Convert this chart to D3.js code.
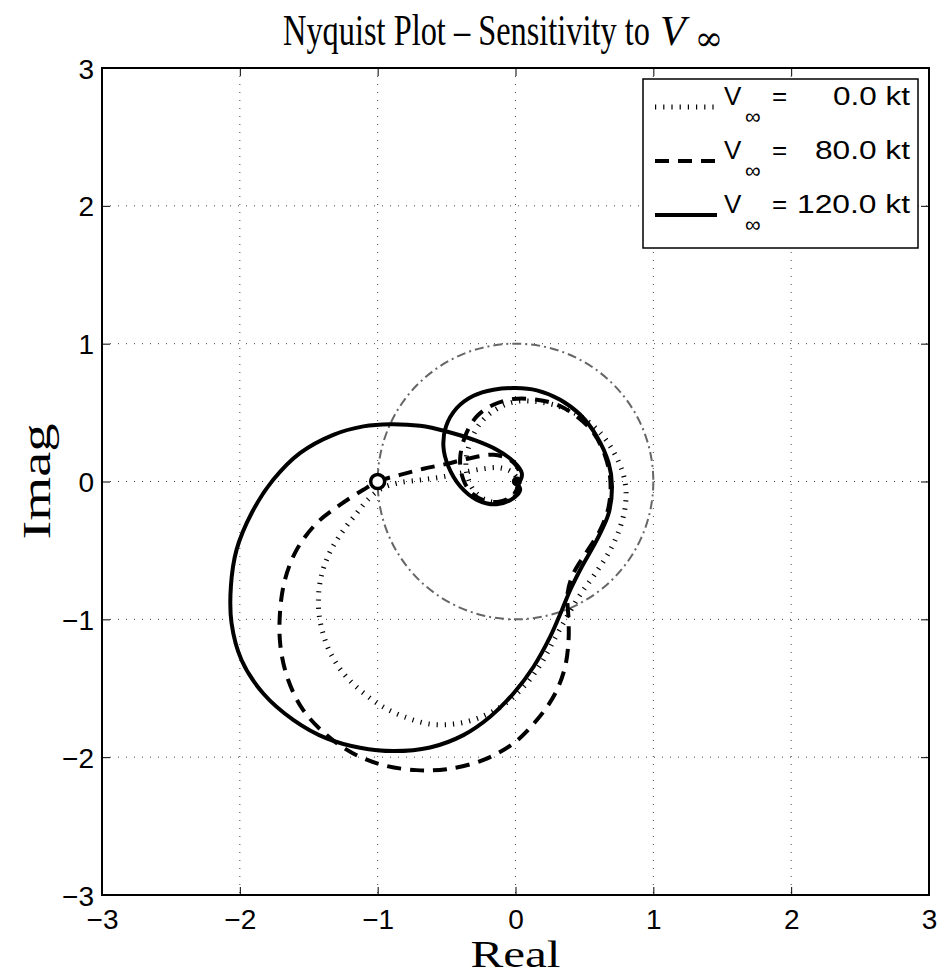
<!DOCTYPE html>
<html>
<head>
<meta charset="utf-8">
<script src="https://cdn.jsdelivr.net/npm/d3@7"></script>
<style>
body { margin: 0; background: #fff; }
</style>
</head>
<body>
<div id="chart"></div>
<script>
// tick values, same for both axes
const ticks = [-3, -2, -1, 0, 1, 2, 3]

// Nyquist curves, [real, imag]
const v0 = [
    [0, 0], [0.025, -0.05], [-0.01, -0.11], [-0.1, -0.15], [-0.2, -0.14], [-0.29, -0.08],
    [-0.34, 0.01], [-0.36, 0.13], [-0.33, 0.28], [-0.25, 0.43], [-0.13, 0.53], [0.0, 0.58],
    [0.15, 0.58], [0.3, 0.55], [0.46, 0.48], [0.6, 0.37], [0.72, 0.2], [0.79, 0.02],
    [0.8, -0.15], [0.76, -0.33], [0.68, -0.51], [0.57, -0.68], [0.47, -0.82], [0.38, -0.97],
    [0.29, -1.13], [0.18, -1.33], [0.05, -1.5], [-0.1, -1.63], [-0.28, -1.72], [-0.45, -1.76],
    [-0.62, -1.76], [-0.8, -1.71], [-0.97, -1.63], [-1.12, -1.52], [-1.25, -1.39], [-1.35, -1.23],
    [-1.41, -1.05], [-1.43, -0.88], [-1.41, -0.69], [-1.35, -0.52], [-1.26, -0.37], [-1.16, -0.24],
    [-1.06, -0.12], [-0.97, -0.05], [-0.85, -0.01], [-0.7, 0.01], [-0.55, 0.03], [-0.4, 0.06],
    [-0.25, 0.09], [-0.12, 0.1], [-0.03, 0.07], [0.01, 0.02], [0, 0]
]

const v80 = [
    [0, 0], [0.015, -0.024], [-0.015, -0.097], [-0.111, -0.145], [-0.22, -0.14], [-0.317, -0.085],
    [-0.378, 0.012], [-0.402, 0.157], [-0.366, 0.327], [-0.281, 0.472], [-0.16, 0.557], [-0.015, 0.598],
    [0.155, 0.593], [0.3, 0.557], [0.446, 0.472], [0.567, 0.351], [0.651, 0.182], [0.688, 0.012],
    [0.676, -0.182], [0.615, -0.351], [0.518, -0.508], [0.421, -0.666], [0.378, -0.811], [0.385, -1.005],
    [0.385, -1.15], [0.36, -1.344], [0.288, -1.538], [0.155, -1.731], [-0.015, -1.9], [-0.232, -2.02],
    [-0.5, -2.087], [-0.717, -2.094], [-0.959, -2.058], [-1.177, -1.973], [-1.37, -1.84], [-1.54, -1.659],
    [-1.649, -1.44], [-1.705, -1.199], [-1.709, -0.956], [-1.673, -0.714], [-1.588, -0.496], [-1.443, -0.303],
    [-1.274, -0.17], [-1.104, -0.06], [-1.0, 0], [-0.838, 0.048], [-0.668, 0.092], [-0.499, 0.128],
    [-0.329, 0.169], [-0.16, 0.194], [-0.039, 0.157], [0.022, 0.085], [0.022, 0.012], [0, 0]
]

const v120 = [
    [0, 0], [0.034, -0.06], [-0.015, -0.12], [-0.136, -0.165], [-0.28, -0.133], [-0.4, -0.036],
    [-0.487, 0.109], [-0.523, 0.254], [-0.504, 0.4], [-0.426, 0.533], [-0.305, 0.622], [-0.16, 0.666],
    [0, 0.678], [0.155, 0.661], [0.324, 0.593], [0.47, 0.484], [0.59, 0.327], [0.676, 0.133],
    [0.7, -0.036], [0.676, -0.23], [0.59, -0.424], [0.482, -0.617], [0.397, -0.787], [0.337, -0.932],
    [0.252, -1.126], [0.131, -1.344], [-0.015, -1.538], [-0.184, -1.707], [-0.378, -1.84], [-0.62, -1.93],
    [-0.886, -1.956], [-1.128, -1.932], [-1.37, -1.864], [-1.61, -1.731], [-1.83, -1.538], [-1.988, -1.295],
    [-2.06, -1.029], [-2.065, -0.763], [-2.024, -0.496], [-1.915, -0.23], [-1.758, 0.012], [-1.564, 0.206],
    [-1.322, 0.339], [-1.104, 0.4], [-0.91, 0.416], [-0.692, 0.404], [-0.499, 0.363], [-0.305, 0.303],
    [-0.136, 0.23], [-0.015, 0.145], [0.046, 0.06], [0.029, 0], [0, 0]
]

const legendValues = ["0.0 kt", "80.0 kt", "120.0 kt"]
const legendWidths = [77, 95, 113]

const width = 945
const height = 978
const margin = {top: 68, right: 16, bottom: 83, left: 102}

const sans = "Liberation Sans, Arial, sans-serif"
const serif = "Liberation Serif, DejaVu Serif, serif"

const svg = d3.select("#chart")
    .append("svg")
    .attr("width", width)
    .attr("height", height)

const x = d3.scaleLinear().domain([-3, 3]).range([margin.left, width - margin.right])
const y = d3.scaleLinear().domain([-3, 3]).range([height - margin.bottom, margin.top])

const fmt = d => d < 0 ? "\u2212" + Math.abs(d) : String(d)

// grid
const grid = svg.append("g")
    .attr("stroke", "#444")
    .attr("stroke-width", 1)
    .attr("stroke-dasharray", "1,7")
grid.selectAll(".gx").data(ticks.slice(1, -1)).enter().append("line")
    .attr("x1", d => x(d)).attr("x2", d => x(d))
    .attr("y1", y(3)).attr("y2", y(-3))
grid.selectAll(".gy").data(ticks.slice(1, -1)).enter().append("line")
    .attr("y1", d => y(d)).attr("y2", d => y(d))
    .attr("x1", x(-3)).attr("x2", x(3))

// axes with inside ticks on all four sides
const tickLen = 8
const xAxis = svg.append("g").attr("transform", `translate(0,${y(-3)})`)
    .call(d3.axisBottom(x).tickValues(ticks).tickSizeInner(-tickLen).tickSizeOuter(0).tickFormat(fmt))
xAxis.selectAll(".tick text").attr("y", 34).attr("dy", null)
svg.append("g").attr("transform", `translate(0,${y(3)})`)
    .call(d3.axisTop(x).tickValues(ticks).tickSizeInner(-tickLen).tickSizeOuter(0).tickFormat(""))
const yAxis = svg.append("g").attr("transform", `translate(${x(-3)},0)`)
    .call(d3.axisLeft(y).tickValues(ticks).tickSizeInner(-tickLen).tickSizeOuter(0).tickFormat(fmt))
yAxis.selectAll(".tick text").attr("x", -8).attr("dy", "0.36em")
svg.append("g").attr("transform", `translate(${x(3)},0)`)
    .call(d3.axisRight(y).tickValues(ticks).tickSizeInner(-tickLen).tickSizeOuter(0).tickFormat(""))

svg.selectAll(".domain").remove()
svg.selectAll(".tick line").attr("stroke", "#000").attr("stroke-width", 1)
svg.selectAll(".tick text")
    .attr("font-family", sans)
    .attr("font-size", 28)
    .attr("fill", "#000")

// unit circle
svg.append("circle")
    .attr("cx", x(0)).attr("cy", y(0))
    .attr("r", x(1) - x(0))
    .attr("fill", "none")
    .attr("stroke", "#666")
    .attr("stroke-width", 2)
    .attr("stroke-dasharray", "9,4,2,4")

const line = d3.line()
    .x(d => x(d[0]))
    .y(d => y(d[1]))
    .curve(d3.curveCatmullRom.alpha(0.5))

const series = [
    {data: v0, dash: "1.2,7", w: 5},
    {data: v80, dash: "14,9", w: 4},
    {data: v120, dash: null, w: 4}
]

svg.selectAll(".curve").data(series).enter().append("path")
    .attr("d", d => line(d.data))
    .attr("fill", "none")
    .attr("stroke", "#000")
    .attr("stroke-width", d => d.w)
    .attr("stroke-dasharray", d => d.dash)

// markers: critical point and origin
svg.append("circle")
    .attr("cx", x(-1)).attr("cy", y(0)).attr("r", 7)
    .attr("fill", "#fff").attr("stroke", "#000").attr("stroke-width", 3.5)
svg.append("circle")
    .attr("cx", x(0.01)).attr("cy", y(0)).attr("r", 5)
    .attr("fill", "#000")

// box
svg.append("rect")
    .attr("x", x(-3)).attr("y", y(3))
    .attr("width", x(3) - x(-3)).attr("height", y(-3) - y(3))
    .attr("fill", "none").attr("stroke", "#000").attr("stroke-width", 2)

// legend
const legend = svg.append("g")
legend.append("rect")
    .attr("x", 643).attr("y", 79).attr("width", 275).attr("height", 169)
    .attr("fill", "#fff").attr("stroke", "#000").attr("stroke-width", 1.5)

const rows = legend.selectAll(".row").data(series).enter().append("g")
    .attr("transform", (d, i) => `translate(0,${105 + i * 54})`)
rows.append("line")
    .attr("x1", 655).attr("x2", 717).attr("y1", 2).attr("y2", 2)
    .attr("stroke", "#000").attr("stroke-width", d => d.w)
    .attr("stroke-dasharray", d => d.dash)
rows.append("text")
    .attr("x", 724).attr("y", 0)
    .attr("font-family", sans)
    .attr("font-size", 26)
    .attr("fill", "#000")
    .text("V")
rows.append("text")
    .attr("x", 745).attr("y", 19)
    .attr("font-family", sans)
    .attr("font-size", 22)
    .attr("fill", "#000")
    .text("\u221E")
rows.append("text")
    .attr("x", 772).attr("y", 0)
    .attr("font-family", sans)
    .attr("font-size", 26)
    .attr("fill", "#000")
    .text("=")
rows.append("text")
    .attr("x", 910).attr("y", 0)
    .attr("text-anchor", "end")
    .attr("font-family", sans)
    .attr("font-size", 26)
    .attr("fill", "#000")
    .attr("textLength", (d, i) => legendWidths[i])
    .attr("lengthAdjust", "spacingAndGlyphs")
    .text((d, i) => legendValues[i])

// title and axis labels
svg.append("text")
    .attr("x", 283).attr("y", 45)
    .attr("font-family", serif)
    .attr("font-size", 44)
    .attr("textLength", 367)
    .attr("lengthAdjust", "spacingAndGlyphs")
    .text("Nyquist Plot \u2013 Sensitivity to")
const vInf = svg.append("text")
    .attr("x", 660).attr("y", 45)
    .attr("font-family", serif)
vInf.append("tspan")
    .attr("font-style", "italic")
    .attr("font-size", 42)
    .text("V")
vInf.append("tspan")
    .attr("dx", 9).attr("dy", 5)
    .attr("font-family", "DejaVu Serif, serif")
    .attr("font-size", 34)
    .text("\u221E")

svg.append("text")
    .attr("x", x(0)).attr("y", 967)
    .attr("text-anchor", "middle")
    .attr("font-family", serif)
    .attr("font-size", 38)
    .attr("textLength", 90)
    .attr("lengthAdjust", "spacingAndGlyphs")
    .text("Real")

svg.append("text")
    .attr("transform", `translate(50,${y(0)}) rotate(-90)`)
    .attr("text-anchor", "middle")
    .attr("font-family", serif)
    .attr("font-size", 40)
    .attr("textLength", 116)
    .attr("lengthAdjust", "spacingAndGlyphs")
    .text("Imag")
</script>
</body>
</html>
